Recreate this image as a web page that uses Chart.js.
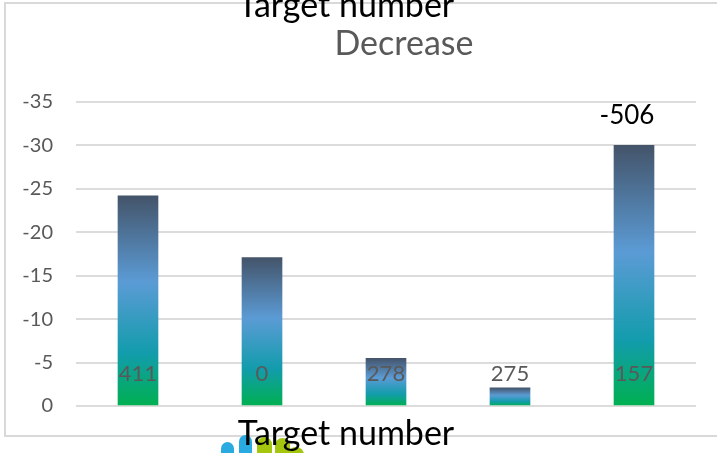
<!DOCTYPE html>
<html>
<head>
<meta charset="utf-8">
<script src="https://cdn.jsdelivr.net/npm/chart.js@4"></script>
<style>
    html, body { margin: 0; padding: 0; background: #fff; overflow: hidden; }
    #frame { position: absolute; left: 4px; top: 2px; width: 760px; height: 431px; border: 2px solid #d9d9d9; }
    #wrap { position: absolute; left: 0; top: 0; width: 717px; height: 453px; }
    .logo { position: absolute; border-radius: 8px 8px 0 0; height: 40px; }
</style>
</head>
<body>
<div id="frame"></div>
<!-- cropped logo at the bottom edge -->
<div class="logo" style="left:221px;top:442px;width:13px;background:#29abe2"></div>
<div class="logo" style="left:239px;top:435px;width:13px;background:#29abe2"></div>
<div class="logo" style="left:257px;top:437px;width:15px;background:#a4c60f"></div>
<div class="logo" style="left:275px;top:438px;width:15px;background:#a4c60f"></div>
<div class="logo" style="left:288px;top:447px;width:16px;background:#a4c60f"></div>
<div id="wrap"><canvas id="c" width="717" height="453"></canvas></div>
<script>
const categories = ["A", "B", "C", "D", "E"];
const decrease = [-24.2, -17.1, -5.5, -2.1, -30];
const targetLabels = ["411", "0", "278", "275", "157"];
const topLabel = "-506";
const yTicks = [0, -5, -10, -15, -20, -25, -30, -35];
const FONT = "Lato";

// gradient runs over each bar on its own
function barGradient(ctx) {
    const chart = ctx.chart;
    const y = chart.scales.y;
    if (!y || ctx.type !== "data") return "#5B9BD5";
    const top = y.getPixelForValue(ctx.raw);
    const bottom = y.getPixelForValue(0);
    if (!isFinite(top) || !isFinite(bottom)) return "#5B9BD5";
    const g = chart.ctx.createLinearGradient(0, top, 0, bottom);
    g.addColorStop(0, "#44546A");
    g.addColorStop(0.41, "#5B9BD5");
    g.addColorStop(0.75, "#129CAC");
    g.addColorStop(1, "#00B050");
    return g;
}

const labelsPlugin = {
    id: "labelsPlugin",
    afterDraw(chart) {
        const ctx = chart.ctx;
        const meta = chart.getDatasetMeta(0);
        const y = chart.scales.y;
        ctx.save();
        ctx.textAlign = "center";
        ctx.textBaseline = "middle";

        // target numbers sit low inside the bars
        ctx.font = "22px " + FONT;
        ctx.fillStyle = "#595959";
        meta.data.forEach((bar, i) => {
            ctx.fillText(targetLabels[i], bar.x, y.getPixelForValue(-3.7));
        });

        // value above the last bar
        const last = meta.data[meta.data.length - 1];
        ctx.font = "26px " + FONT;
        ctx.fillStyle = "#000";
        ctx.fillText(topLabel, last.x - 7, last.y - 30);

        // titles
        ctx.textBaseline = "alphabetic";
        ctx.font = "34px " + FONT;
        ctx.fillStyle = "#000";
        ctx.fillText("Target number", 346, 17);
        ctx.fillText("Target number", 346, 445);
        ctx.fillStyle = "#595959";
        ctx.fillText("Decrease", 404, 55);
        ctx.restore();
    }
};

new Chart(document.getElementById("c"), {
    type: "bar",
    data: {
        labels: categories,
        datasets: [{
            label: "Decrease",
            data: decrease,
            backgroundColor: barGradient,
            barThickness: 40
        }]
    },
    options: {
        responsive: false,
        animation: false,
        layout: { padding: { left: 0, right: 21, top: 102, bottom: 47 } },
        plugins: { legend: { display: false }, title: { display: false }, tooltip: { enabled: false } },
        scales: {
            x: {
                ticks: { display: false },
                grid: { display: false },
                border: { display: false },
                afterFit(axis) { axis.height = 0; }
            },
            y: {
                reverse: true,
                min: -35,
                max: 0,
                afterBuildTicks(axis) { axis.ticks = yTicks.map(v => ({ value: v })); },
                afterFit(axis) { axis.width = 76; },
                ticks: { color: "#595959", font: { family: FONT, size: 20 }, padding: 23 },
                grid: { color: "#dcdcdc", lineWidth: 2, drawTicks: false },
                border: { display: false }
            }
        }
    },
    plugins: [labelsPlugin]
});
</script>
</body>
</html>
